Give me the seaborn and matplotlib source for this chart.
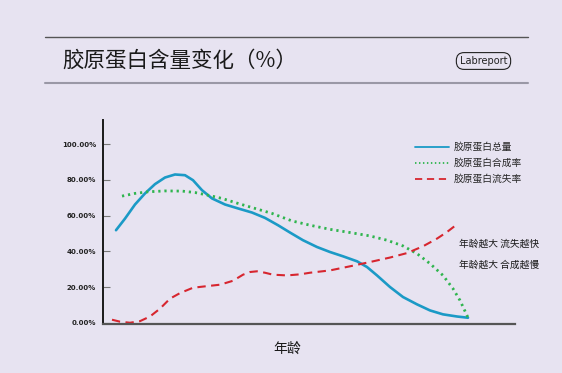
import matplotlib
matplotlib.use("Agg")
import matplotlib.pyplot as plt
import seaborn as sns
import pandas as pd

# ---- data ----
total_x = [116, 125, 135, 145, 155, 165, 175, 185, 193, 202, 212, 225, 238, 252, 265, 278, 290,
           303, 317, 330, 343, 357, 367, 377, 390, 403, 417, 430, 443, 457, 468]
total_y = [51.8, 58.3, 66.2, 72.4, 77.6, 81.3, 83.0, 82.6, 79.8, 74.2, 69.6, 66.2, 64.0, 61.7, 58.7, 54.6, 50.5,
           46.2, 42.4, 39.6, 37.2, 34.4, 31.2, 26.5, 20.0, 14.4, 10.3, 6.9, 4.7, 3.5, 2.8]

synth_x = [122, 135, 148, 165, 182, 195, 208, 222, 238, 255, 272, 292, 310, 330, 350, 370, 387,
           403, 417, 430, 443, 453, 460, 467, 468]
synth_y = [70.9, 72.4, 73.3, 73.8, 73.7, 72.9, 71.4, 69.6, 66.8, 64.0, 61.2, 57.0, 54.6, 52.3, 50.5, 48.6, 46.2,
           43.0, 38.7, 33.1, 26.5, 19.1, 12.5, 4.1, 2.8]

loss_x = [112, 120, 130, 140, 150, 160, 170, 180, 193, 207, 220, 233, 243, 250, 257, 265, 273, 287,
          300, 310, 330, 350, 370, 390, 407, 423, 437, 447, 457]
loss_y = [1.7, 0.6, 0.0, 0.9, 3.5, 7.9, 13.5, 16.6, 19.6, 20.5, 21.3, 23.5, 26.9, 28.4, 28.8, 28.0, 26.9, 26.5,
          27.1, 28.0, 29.3, 31.6, 34.0, 36.5, 39.0, 42.8, 47.1, 50.8, 55.1]

series_names = ["胶原蛋白总量", "胶原蛋白合成率", "胶原蛋白流失率"]
y_ticks = [0, 20, 40, 60, 80, 100]
title = "胶原蛋白含量变化（%）"
badge = "Labreport"
xlabel = "年龄"
notes = ["年龄越大 流失越快", "年龄越大 合成越慢"]

# ---- style ----
BG = "#E7E3F1"
sns.set_theme(style="white")
plt.rcParams["font.family"] = ["Noto Sans CJK SC", "DejaVu Sans"]

W, H = 562, 373
fig = plt.figure(figsize=(W / 100, H / 100), dpi=100, facecolor=BG)
ax = fig.add_axes([103 / W, 1 - 324 / H, (515 - 103) / W, (324 - 120) / H])
ax.set_facecolor(BG)

df_t = pd.DataFrame({"x": total_x, "y": total_y})
df_s = pd.DataFrame({"x": synth_x, "y": synth_y})
df_l = pd.DataFrame({"x": loss_x, "y": loss_y})

sns.lineplot(data=df_t, x="x", y="y", ax=ax, color="#1B9AC6", linewidth=1.9,
             label=series_names[0], sort=False)
sns.lineplot(data=df_s, x="x", y="y", ax=ax, color="#2FB54E", linewidth=2.0,
             linestyle=(0, (0.8, 1.4)), label=series_names[1], sort=False)
sns.lineplot(data=df_l, x="x", y="y", ax=ax, color="#D7262F", linewidth=1.5,
             linestyle=(0, (4, 2.6)), label=series_names[2], sort=False)

ax.set_xlim(103, 515)
ax.set_ylim(-0.7, 113.5)
ax.set_xticks([])
ax.set_yticks(y_ticks)
ax.set_yticklabels([f"{v:.2f}%" for v in y_ticks], fontsize=5, fontweight="bold",
                   family=["DejaVu Sans"], color="#222222")
ax.tick_params(axis="y", direction="in", length=5, width=0.8, color="#777777", pad=5, left=True)
ax.set_xlabel("")
ax.set_ylabel("")
for s in ["top", "right"]:
    ax.spines[s].set_visible(False)
ax.spines["left"].set_color("#1a1a1a")
ax.spines["left"].set_linewidth(1.4)
ax.spines["bottom"].set_color("#555555")
ax.spines["bottom"].set_linewidth(1.6)

leg = ax.legend(loc="upper left", bbox_to_anchor=(415 / W, 1 - 142 / H),
                bbox_transform=fig.transFigure, frameon=False, fontsize=7,
                handlelength=3.5, handletextpad=0.5, labelspacing=0.62,
                borderpad=0, borderaxespad=0)
for h in leg.get_lines():
    h.set_linewidth(1.3)

# header
fig.add_artist(plt.Line2D([45 / W, 528 / W], [1 - 37 / H, 1 - 37 / H], color="#555555", lw=1.0))
fig.add_artist(plt.Line2D([45 / W, 528 / W], [1 - 83 / H, 1 - 83 / H], color="#9a98a6", lw=1.5))
fig.text(62 / W, 1 - 61 / H, title, fontsize=15.5, va="center", ha="left", color="#1a1a1a")
fig.text(483.5 / W, 1 - 61 / H, badge, fontsize=7, va="center", ha="center", color="#222222",
         family=["DejaVu Sans"],
         bbox=dict(boxstyle="round,pad=0.35,rounding_size=0.8", fc=BG, ec="#222222", lw=0.8))

fig.text(459 / W, 1 - 244 / H, notes[0], fontsize=7, va="center", ha="left", color="#1a1a1a")
fig.text(459 / W, 1 - 265 / H, notes[1], fontsize=7, va="center", ha="left", color="#1a1a1a")
fig.text(287 / W, 1 - 349 / H, xlabel, fontsize=10, va="center", ha="center", color="#1a1a1a")

fig.savefig("out.png", dpi=100, facecolor=BG)
